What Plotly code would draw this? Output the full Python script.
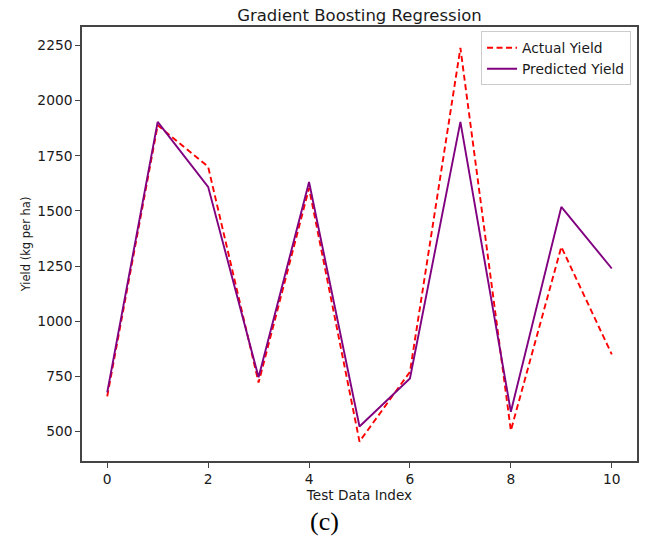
import plotly.graph_objects as go

idx = list(range(11))
actual = [660, 1888, 1700, 722, 1603, 455, 771, 2238, 505, 1337, 850]
predicted = [678, 1903, 1609, 746, 1631, 523, 741, 1903, 590, 1518, 1239]
yticks = [500, 750, 1000, 1250, 1500, 1750, 2000, 2250]
xticks = [0, 2, 4, 6, 8, 10]

font = "DejaVu Sans"
fig = go.Figure()
fig.add_trace(go.Scatter(x=idx, y=actual, mode="lines", name="Actual Yield",
                         line=dict(color="#ff0000", width=1.9, dash="6px,3.5px")))
fig.add_trace(go.Scatter(x=idx, y=predicted, mode="lines", name="Predicted Yield",
                         line=dict(color="#800080", width=1.9)))

axis_common = dict(showgrid=False, zeroline=False, showline=True, linecolor="#444444",
                   linewidth=1.5, mirror=True, ticks="outside", ticklen=5, tickwidth=1.2,
                   tickcolor="#444444", tickfont=dict(family=font, size=13.8, color="#1a1a1a"))

fig.update_xaxes(range=[-0.5, 10.5], tickvals=xticks,
                 title=dict(text="Test Data Index", font=dict(family=font, size=13.6, color="#1a1a1a"), standoff=4),
                 **axis_common)
fig.update_yaxes(range=[367, 2333], tickvals=yticks,
                 title=dict(text="Yield (kg per ha)", font=dict(family=font, size=11.5, color="#1a1a1a"), standoff=4),
                 **axis_common)

fig.update_layout(
    width=646, height=541,
    margin=dict(l=82, r=7, t=27, b=80),
    paper_bgcolor="white", plot_bgcolor="white",
    title=dict(text="Gradient Boosting Regression", x=0.5, xref="paper", xanchor="center", y=0.972, yanchor="middle",
               font=dict(family=font, size=16.5, color="#1a1a1a")),
    legend=dict(x=0.719, y=0.99, xanchor="left", yanchor="top", bordercolor="#cccccc", borderwidth=1,
                bgcolor="rgba(255,255,255,0.8)", font=dict(family=font, size=13.8, color="#1a1a1a"),
                tracegroupgap=0, itemwidth=30),
    showlegend=True,
)
fig.add_annotation(text="(c)", xref="paper", yref="paper", x=0.437, y=-0.14, showarrow=False,
                   xanchor="center", yanchor="middle",
                   font=dict(family="Liberation Serif", size=26, color="#000000"))

fig.write_html("out.html")
